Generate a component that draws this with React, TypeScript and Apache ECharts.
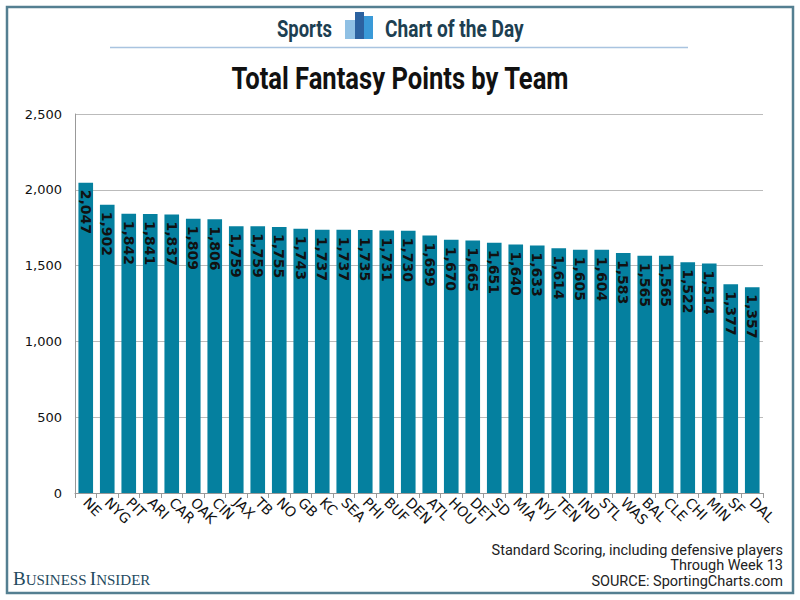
import React, { useEffect, useRef } from "react";
import * as echarts from "echarts";

const teams = ["NE","NYG","PIT","ARI","CAR","OAK","CIN","JAX","TB","NO","GB","KC","SEA","PHI","BUF","DEN","ATL","HOU","DET","SD","MIA","NYJ","TEN","IND","STL","WAS","BAL","CLE","CHI","MIN","SF","DAL"];
const points = [2047,1902,1842,1841,1837,1809,1806,1759,1759,1755,1743,1737,1737,1735,1731,1730,1699,1670,1665,1651,1640,1633,1614,1605,1604,1583,1565,1565,1522,1514,1377,1357];
const yTicks = { min: 0, max: 2500, interval: 500 };
const titleText = "Total Fantasy Points by Team";
const notes = ["Standard Scoring, including defensive players", "Through Week 13", "SOURCE: SportingCharts.com"];

const fmt = (v: number) => v.toLocaleString("en-US");

export default function App() {
  const ref = useRef<HTMLDivElement>(null);
  useEffect(() => {
    document.body.style.margin = "0";
    const chart = echarts.init(ref.current!, null, { renderer: "svg" });
    const frame = "#547f91";
    chart.setOption({
      animation: false,
      backgroundColor: "#ffffff",
      grid: { left: 75, right: 37, top: 114, bottom: 107, containLabel: false },
      xAxis: {
        type: "category",
        data: teams,
        axisLine: { lineStyle: { color: "#999", width: 1 } },
        axisTick: { show: true, length: 5, lineStyle: { color: "#999" } },
        axisLabel: {
          interval: 0,
          rotate: -45,
          margin: 7,
          fontSize: 14,
          color: "#111",
          fontFamily: "DejaVu Sans",
        },
      },
      yAxis: {
        type: "value",
        min: yTicks.min,
        max: yTicks.max,
        interval: yTicks.interval,
        axisLine: { show: true, lineStyle: { color: "#999" } },
        axisTick: { show: false },
        splitLine: { lineStyle: { color: "#bbb", width: 1 } },
        axisLabel: {
          formatter: (v: number) => fmt(v),
          fontSize: 13,
          margin: 13,
          color: "#111",
          fontFamily: "DejaVu Sans",
        },
      },
      series: [
        {
          type: "bar",
          data: points,
          barWidth: "68%",
          itemStyle: { color: "#05809f" },
          label: {
            show: true,
            position: "insideTop",
            rotate: -90,
            align: "left",
            verticalAlign: "middle",
            distance: 7,
            formatter: (p: any) => fmt(p.value),
            fontSize: 14,
            fontWeight: "bold",
            color: "#111",
            fontFamily: "DejaVu Sans",
          },
        },
      ],
      graphic: [
        {
          type: "rect",
          shape: { x: 7, y: 7, width: 786, height: 586 },
          style: { fill: "none", stroke: frame, lineWidth: 2.5 },
          silent: true,
        },
        {
          type: "line",
          shape: { x1: 110, y1: 47.5, x2: 688, y2: 47.5 },
          style: { stroke: "#a9c4e0", lineWidth: 1.5 },
        },
        {
          type: "text",
          x: 277,
          y: 29,
          scaleX: 0.8,
          style: {
            text: "Sports",
            fill: "#1d3f52",
            fontSize: 23,
            fontWeight: "bold",
            fontFamily: "Roboto",
            align: "left",
            verticalAlign: "middle",
          },
        },
        { type: "rect", shape: { x: 345, y: 20, width: 10, height: 19 }, style: { fill: "#8fc0e4" } },
        { type: "rect", shape: { x: 355, y: 12, width: 9, height: 27 }, style: { fill: "#2c62a0" } },
        { type: "rect", shape: { x: 364, y: 16, width: 9, height: 23 }, style: { fill: "#3a9ad8" } },
        {
          type: "text",
          x: 385,
          y: 29,
          scaleX: 0.83,
          style: {
            text: "Chart of the Day",
            fill: "#1d3f52",
            fontSize: 23,
            fontWeight: "bold",
            fontFamily: "Roboto",
            align: "left",
            verticalAlign: "middle",
          },
        },
        {
          type: "text",
          x: 400,
          y: 79,
          scaleX: 0.825,
          style: {
            text: titleText,
            fill: "#111",
            fontSize: 31,
            fontWeight: "bold",
            fontFamily: "Roboto",
            align: "center",
            verticalAlign: "middle",
          },
        },
        ...notes.map((t, i) => ({
          type: "text",
          x: 783,
          y: 550 + i * 15.5,
          style: {
            text: t,
            fill: "#222",
            fontSize: 14.5,
            fontFamily: "Roboto",
            align: "right",
            verticalAlign: "middle",
          },
        })),
        {
          type: "text",
          x: 13,
          y: 578,
          style: {
            text: "{b|B}{s|USINESS} {b|I}{s|NSIDER}",
            verticalAlign: "middle",
            rich: {
              b: { fontSize: 19, fontFamily: "Liberation Serif", fill: "#1f4a5e", verticalAlign: "bottom" },
              s: { fontSize: 15, fontFamily: "Liberation Serif", fill: "#1f4a5e", verticalAlign: "bottom" },
            },
          },
        },
      ],
    });
    return () => chart.dispose();
  }, []);
  return <div ref={ref} style={{ width: 800, height: 600 }} />;
}
